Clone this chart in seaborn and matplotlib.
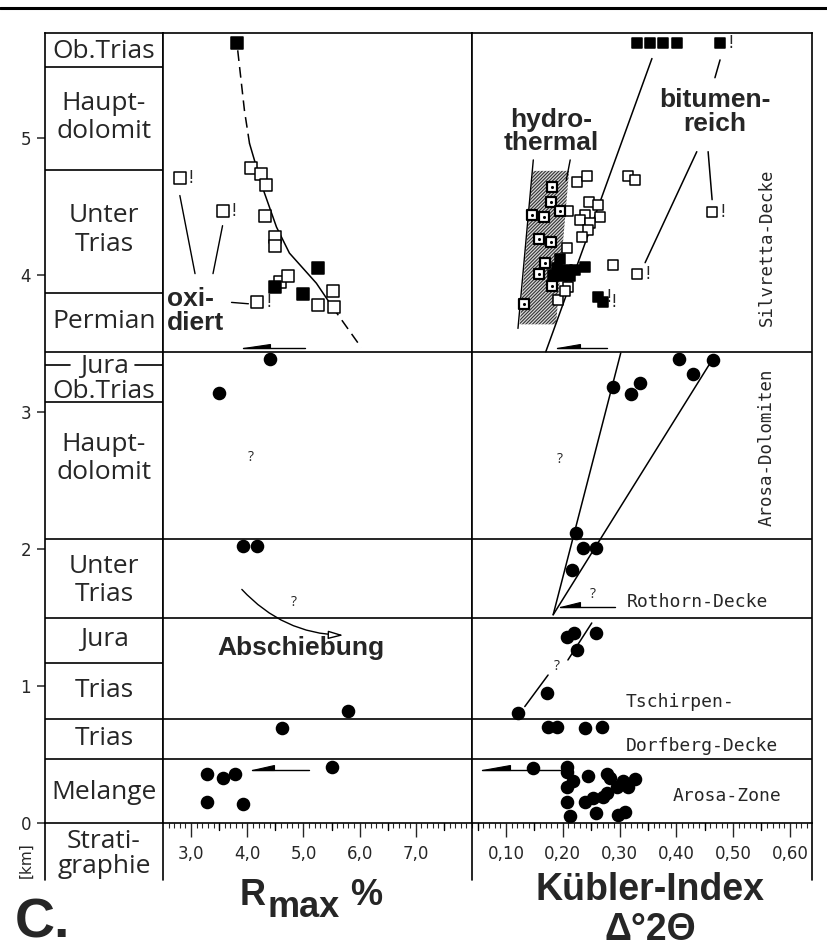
import matplotlib
matplotlib.use("Agg")
import matplotlib.pyplot as plt
from matplotlib.lines import Line2D
from matplotlib.patches import Polygon
import seaborn as sns
import pandas as pd
import numpy as np

sns.set_style("white")
plt.rcParams["font.family"] = ["DejaVu Sans"]
plt.rcParams["hatch.linewidth"] = 0.8

# ---------------- data ----------------
# stratigraphic column (km)
strat_names = ["Ob.Trias", "Haupt-\ndolomit", "Unter\nTrias", "Permian", "Jura", "Ob.Trias",
               "Haupt-\ndolomit", "Unter\nTrias", "Jura", "Trias", "Trias", "Melange"]
strat_label_y = [5.63, 5.15, 4.33, 3.66, 3.33, 3.15, 2.66, 1.77, 1.34, 0.97, 0.62, 0.22]
strat_bounds = [5.52, 4.77, 3.87, 3.07, 1.17]
nappe_bounds = [3.44, 2.07, 1.50, 0.76, 0.47]
jura_line = 3.34
y_ticks = [0, 1, 2, 3, 4, 5]

# R max % panel
rmax_ticks = [3, 4, 5, 6, 7]
rmax_ticklabels = ["3,0", "4,0", "5,0", "6,0", "7,0"]
rmax_fsq_x = [3.81, 5.25, 4.50, 5.00]
rmax_fsq_y = [5.69, 4.05, 3.91, 3.86]
rmax_osq_x = [4.06, 4.24, 4.34, 4.31, 4.50, 4.49, 4.59, 4.73, 5.53, 5.25, 5.55]
rmax_osq_y = [4.78, 4.74, 4.66, 4.43, 4.28, 4.21, 3.95, 3.99, 3.88, 3.78, 3.77]
rmax_oxi_x = [2.80, 3.56, 4.18]
rmax_oxi_y = [4.71, 4.47, 3.80]
rmax_dot_x = [4.40, 3.49, 3.92, 4.18, 5.80, 4.61, 5.51, 3.28, 3.56, 3.78, 3.28, 3.92]
rmax_dot_y = [3.39, 3.14, 2.02, 2.02, 0.82, 0.69, 0.41, 0.36, 0.33, 0.36, 0.15, 0.14]
rmax_trend_top_x = [3.83, 3.95, 4.04]
rmax_trend_top_y = [5.64, 5.20, 4.96]
rmax_trend_mid_x = [4.04, 4.27, 4.52, 4.75, 5.23, 5.51]
rmax_trend_mid_y = [4.96, 4.64, 4.35, 4.16, 3.94, 3.77]
rmax_trend_bot_x = [5.51, 6.03]
rmax_trend_bot_y = [3.77, 3.47]

# Kuebler index panel
kub_ticks = [0.1, 0.2, 0.3, 0.4, 0.5, 0.6]
kub_ticklabels = ["0,10", "0,20", "0,30", "0,40", "0,50", "0,60"]
kub_fsq_x = [0.331, 0.354, 0.376, 0.401, 0.195, 0.190, 0.207, 0.221, 0.239, 0.183, 0.199, 0.213]
kub_fsq_y = [5.69, 5.69, 5.69, 5.69, 4.12, 4.05, 4.04, 4.04, 4.06, 4.00, 3.99, 3.99]
kub_fsq_bang_x = [0.477, 0.262, 0.271]
kub_fsq_bang_y = [5.69, 3.84, 3.80]
kub_osq_x = [0.225, 0.243, 0.315, 0.327, 0.246, 0.262, 0.239, 0.265, 0.230, 0.248, 0.244,
             0.234, 0.207, 0.209, 0.288, 0.209, 0.192, 0.204]
kub_osq_y = [4.68, 4.72, 4.72, 4.69, 4.53, 4.51, 4.44, 4.42, 4.40, 4.38, 4.33,
             4.28, 4.20, 4.47, 4.07, 3.91, 3.82, 3.88]
kub_osq_bang_x = [0.331, 0.463]
kub_osq_bang_y = [4.01, 4.46]
kub_hyd_x = [0.181, 0.179, 0.146, 0.167, 0.195, 0.158, 0.179, 0.169, 0.158, 0.181, 0.132]
kub_hyd_y = [4.64, 4.53, 4.44, 4.42, 4.47, 4.26, 4.24, 4.09, 4.01, 3.92, 3.79]
kub_dot_x = [0.405, 0.464, 0.429, 0.288, 0.336, 0.320, 0.223, 0.236, 0.258, 0.216,
             0.207, 0.220, 0.258, 0.225, 0.172, 0.121,
             0.174, 0.190, 0.239, 0.269,
             0.148, 0.207, 0.207, 0.218, 0.244, 0.278, 0.283, 0.306, 0.327, 0.207,
             0.295, 0.315, 0.207, 0.239, 0.253, 0.271, 0.278, 0.213, 0.258, 0.297, 0.310]
kub_dot_y = [3.39, 3.38, 3.28, 3.18, 3.21, 3.13, 2.12, 2.01, 2.01, 1.85,
             1.36, 1.39, 1.39, 1.26, 0.95, 0.80,
             0.70, 0.70, 0.69, 0.70,
             0.40, 0.41, 0.37, 0.31, 0.34, 0.36, 0.33, 0.31, 0.32, 0.26,
             0.26, 0.26, 0.15, 0.15, 0.18, 0.19, 0.22, 0.05, 0.07, 0.06, 0.08]
kub_band_x = [0.147, 0.211, 0.188, 0.124]
kub_band_y = [4.76, 4.76, 3.64, 3.64]

# ---------------- layout ----------------
W, H = 827, 950
fig = plt.figure(figsize=(W / 100, H / 100), dpi=100)
def fx(px): return px / W
def fy(py): return 1 - py / H

Y_TOP = (823 - 33) / 137.0
ybot = fy(823); hgt = (823 - 33) / H
ax_s = fig.add_axes([fx(45), ybot, (163 - 45) / W, hgt])
ax_r = fig.add_axes([fx(163), ybot, (472 - 163) / W, hgt])
ax_k = fig.add_axes([fx(472), ybot, (812 - 472) / W, hgt])

LW = 1.2
SANS = ["Open Sans", "DejaVu Sans"]
BOLD = ["Liberation Sans", "DejaVu Sans"]
NARROW = ["Liberation Sans Narrow", "DejaVu Sans"]
MONO = ["DejaVu Sans Mono"]

for ax in (ax_s, ax_r, ax_k):
    ax.set_ylim(0, Y_TOP)
    for sp in ax.spines.values():
        sp.set_color("black"); sp.set_linewidth(LW); sp.set_visible(True)
    for b in nappe_bounds:
        ax.axhline(b, color="black", lw=LW, zorder=1)

def sc(ax, xs, ys, marker, size, face, lw=1.1):
    df = pd.DataFrame({"x": xs, "y": ys})
    sns.scatterplot(data=df, x="x", y="y", ax=ax, marker=marker, s=size, color=face,
                    edgecolor="black", linewidth=lw, legend=False, zorder=5)

def bang(ax, xs, ys, dx=8):
    for x, y in zip(xs, ys):
        ax.annotate("!", (x, y), xytext=(dx, 0), textcoords="offset points",
                    ha="center", va="center", fontsize=12, family=["DejaVu Sans"])

def half_arrow(ax, x_tip, x_head, x_end, y, h):
    ax.plot([x_tip, x_end], [y, y], color="black", lw=1.0, zorder=4)
    ax.add_patch(Polygon([[x_tip, y], [x_head, y], [x_head, y + h]], closed=True,
                         fc="black", ec="black", lw=0.8, zorder=4))

def mid_ticks(ax, positions):
    tr = ax.get_xaxis_transform()
    for v in positions:
        ax.plot([v, v], [0, -0.009], color="black", lw=1.0, clip_on=False, transform=tr)

# ---------------- stratigraphy column ----------------
ax_s.set_xlim(0, 1)
for b in strat_bounds:
    ax_s.axhline(b, color="black", lw=LW)
ax_s.plot([0, 0.21], [jura_line] * 2, color="black", lw=LW)
ax_s.plot([0.76, 1.0], [jura_line] * 2, color="black", lw=LW)
for name, y in zip(strat_names, strat_label_y):
    ax_s.text(0.5, y, name, ha="center", va="center", fontsize=19, family=SANS,
              linespacing=1.2)
ax_s.set_xticks([])
ax_s.set_yticks(y_ticks)
ax_s.set_yticklabels([str(t) for t in y_ticks], family=NARROW, fontsize=12)
ax_s.tick_params(axis="y", left=True, length=6, width=1.1, direction="out", pad=4)

# ---------------- R max panel ----------------
ax_r.set_xlim(2.5, 8.0)
sns.lineplot(x=rmax_trend_top_x, y=rmax_trend_top_y, ax=ax_r, sort=False, estimator=None,
             color="black", lw=1.1, linestyle=(0, (7, 4)))
sns.lineplot(x=rmax_trend_mid_x, y=rmax_trend_mid_y, ax=ax_r, sort=False, estimator=None,
             color="black", lw=1.1)
sns.lineplot(x=rmax_trend_bot_x, y=rmax_trend_bot_y, ax=ax_r, sort=False, estimator=None,
             color="black", lw=1.1, linestyle=(0, (7, 4)))
sc(ax_r, rmax_osq_x, rmax_osq_y, "s", 75, "white")
sc(ax_r, rmax_oxi_x, rmax_oxi_y, "s", 75, "white")
bang(ax_r, rmax_oxi_x, rmax_oxi_y)
sc(ax_r, rmax_fsq_x, rmax_fsq_y, "s", 75, "black")
sc(ax_r, rmax_dot_x, rmax_dot_y, "o", 75, "black")
ax_r.plot([2.80, 3.07], [4.58, 4.01], color="black", lw=1.0)
ax_r.plot([3.56, 3.39], [4.36, 4.01], color="black", lw=1.0)
ax_r.plot([3.72, 4.02], [3.80, 3.79], color="black", lw=1.0)
ax_r.text(2.57, 3.74, "oxi-\ndiert", ha="left", va="center", fontsize=19,
          fontweight="bold", family=BOLD, linespacing=1.0)
half_arrow(ax_r, 3.92, 4.40, 5.02, 3.47, 0.03)
half_arrow(ax_r, 4.08, 4.48, 5.10, 0.39, 0.03)
ax_r.text(4.06, 2.67, "?", ha="center", va="center", fontsize=10, family=SANS)
ax_r.text(4.82, 1.61, "?", ha="center", va="center", fontsize=10, family=SANS)
ax_r.annotate("", xy=(5.76, 1.37), xytext=(3.87, 1.72),
              arrowprops=dict(arrowstyle="-|>,head_length=0.9,head_width=0.25",
                              fc="white", ec="black", lw=1.0,
                              connectionstyle="arc3,rad=0.22"))
ax_r.text(4.96, 1.28, "Abschiebung", ha="center", va="center", fontsize=19,
          fontweight="bold", family=BOLD)
ax_r.set_xticks(rmax_ticks)
ax_r.set_xticklabels(rmax_ticklabels, family=NARROW, fontsize=12)
ax_r.set_xticks(np.round(np.arange(2.6, 8.0, 0.1), 2), minor=True)
ax_r.tick_params(axis="x", which="major", bottom=True, length=10, width=1.0, pad=6)
ax_r.tick_params(axis="x", which="minor", bottom=True, length=3.5, width=0.8)
ax_r.set_yticks([])
ax_r.set_xlabel(""); ax_r.set_ylabel("")
mid_ticks(ax_r, np.arange(3.5, 8.0, 1.0))

# ---------------- Kuebler panel ----------------
ax_k.set_xlim(0.040, 0.639)
ax_k.add_patch(Polygon(list(zip(kub_band_x, kub_band_y)), closed=True, fc="#d8d8d8",
                       ec="#333333", hatch="//////////", lw=0, zorder=2))
ax_k.plot([0.148, 0.121], [4.84, 3.61], color="black", lw=1.0, zorder=3)
ax_k.plot([0.213, 0.206], [4.84, 4.69], color="black", lw=1.0, zorder=3)
ax_k.plot([0.357, 0.170], [5.58, 3.44], color="black", lw=1.1, zorder=3)
ax_k.plot([0.477, 0.468], [5.57, 5.44], color="black", lw=1.1)
ax_k.plot([0.456, 0.463], [4.90, 4.55], color="black", lw=1.1)
ax_k.plot([0.436, 0.345], [4.90, 4.09], color="black", lw=1.1)
ax_k.plot([0.183, 0.302], [1.52, 3.43], color="black", lw=1.1)
ax_k.plot([0.183, 0.457], [1.52, 3.34], color="black", lw=1.1)
ax_k.plot([0.251, 0.209], [1.46, 1.19], color="black", lw=1.1)
ax_k.plot([0.174, 0.133], [1.08, 0.85], color="black", lw=1.1)
sc(ax_k, kub_osq_x, kub_osq_y, "s", 55, "white")
sc(ax_k, kub_osq_bang_x, kub_osq_bang_y, "s", 55, "white")
bang(ax_k, kub_osq_bang_x, kub_osq_bang_y)
sc(ax_k, kub_hyd_x, kub_hyd_y, "s", 55, "white", lw=1.6)
sc(ax_k, kub_hyd_x, kub_hyd_y, "o", 5, "black", lw=0)
sc(ax_k, kub_fsq_x, kub_fsq_y, "s", 55, "black")
sc(ax_k, kub_fsq_bang_x, kub_fsq_bang_y, "s", 55, "black")
bang(ax_k, kub_fsq_bang_x, kub_fsq_bang_y)
sc(ax_k, kub_dot_x, kub_dot_y, "o", 75, "black")
half_arrow(ax_k, 0.190, 0.230, 0.278, 3.47, 0.03)
half_arrow(ax_k, 0.195, 0.230, 0.292, 1.58, 0.03)
half_arrow(ax_k, 0.058, 0.107, 0.195, 0.39, 0.03)
ax_k.text(0.179, 5.05, "hydro-\nthermal", ha="center", va="center", fontsize=19,
          fontweight="bold", family=BOLD, linespacing=0.95)
ax_k.text(0.468, 5.19, "bitumen-\nreich", ha="center", va="center", fontsize=19,
          fontweight="bold", family=BOLD, linespacing=1.0)
ax_k.text(0.559, 4.20, "Silvretta-Decke", rotation=90, ha="center", va="center",
          fontsize=12.5, family=MONO)
ax_k.text(0.559, 2.74, "Arosa-Dolomiten", rotation=90, ha="center", va="center",
          fontsize=12.5, family=MONO)
ax_k.text(0.313, 1.61, "Rothorn-Decke", ha="left", va="center", fontsize=13, family=MONO)
ax_k.text(0.310, 0.88, "Tschirpen-", ha="left", va="center", fontsize=13, family=MONO)
ax_k.text(0.310, 0.56, "Dorfberg-Decke", ha="left", va="center", fontsize=13, family=MONO)
ax_k.text(0.394, 0.20, "Arosa-Zone", ha="left", va="center", fontsize=13, family=MONO)
ax_k.text(0.195, 2.65, "?", ha="center", va="center", fontsize=10, family=SANS)
ax_k.text(0.253, 1.67, "?", ha="center", va="center", fontsize=10, family=SANS)
ax_k.text(0.190, 1.14, "?", ha="center", va="center", fontsize=10, family=SANS)
ax_k.set_xticks(kub_ticks)
ax_k.set_xticklabels(kub_ticklabels, family=NARROW, fontsize=12)
ax_k.set_xticks(np.round(np.arange(0.04, 0.64, 0.01), 3), minor=True)
ax_k.tick_params(axis="x", which="major", bottom=True, length=10, width=1.0, pad=6)
ax_k.tick_params(axis="x", which="minor", bottom=True, length=3.5, width=0.8)
ax_k.set_yticks([])
ax_k.set_xlabel(""); ax_k.set_ylabel("")
mid_ticks(ax_k, np.arange(0.05, 0.64, 0.1))

ax_s.set_xlabel(""); ax_s.set_ylabel("")
ax_r.set_ylim(0, Y_TOP); ax_k.set_ylim(0, Y_TOP)

# ---------------- figure decorations ----------------
fig.add_artist(Line2D([0, 1], [fy(8), fy(8)], color="black", lw=2.2))
for px in (45, 163, 472, 812):
    fig.add_artist(Line2D([fx(px), fx(px)], [fy(823), fy(880)], color="black", lw=LW))
fig.text(fx(104), fy(854), "Strati-\ngraphie", ha="center", va="center", fontsize=19,
         family=SANS, linespacing=1.05)
fig.text(fx(26), fy(860), "[km]", rotation=90, ha="center", va="center", fontsize=11,
         family=NARROW)
fig.text(fx(15), fy(938), "C.", ha="left", va="baseline", fontsize=40, fontweight="bold",
         family=BOLD)
fig.text(fx(240), fy(905), "R", ha="left", va="baseline", fontsize=26, fontweight="bold",
         family=BOLD)
fig.text(fx(268), fy(917), "max", ha="left", va="baseline", fontsize=26, fontweight="bold",
         family=BOLD)
fig.text(fx(350), fy(905), "%", ha="left", va="baseline", fontsize=26, fontweight="bold",
         family=BOLD)
fig.text(fx(650), fy(900), "Kübler-Index", ha="center", va="baseline", fontsize=27,
         fontweight="bold", family=BOLD)
fig.text(fx(650), fy(940), "Δ°2Θ", ha="center", va="baseline", fontsize=27,
         fontweight="bold", family=BOLD)

fig.savefig("out.png", dpi=100, facecolor="white")
